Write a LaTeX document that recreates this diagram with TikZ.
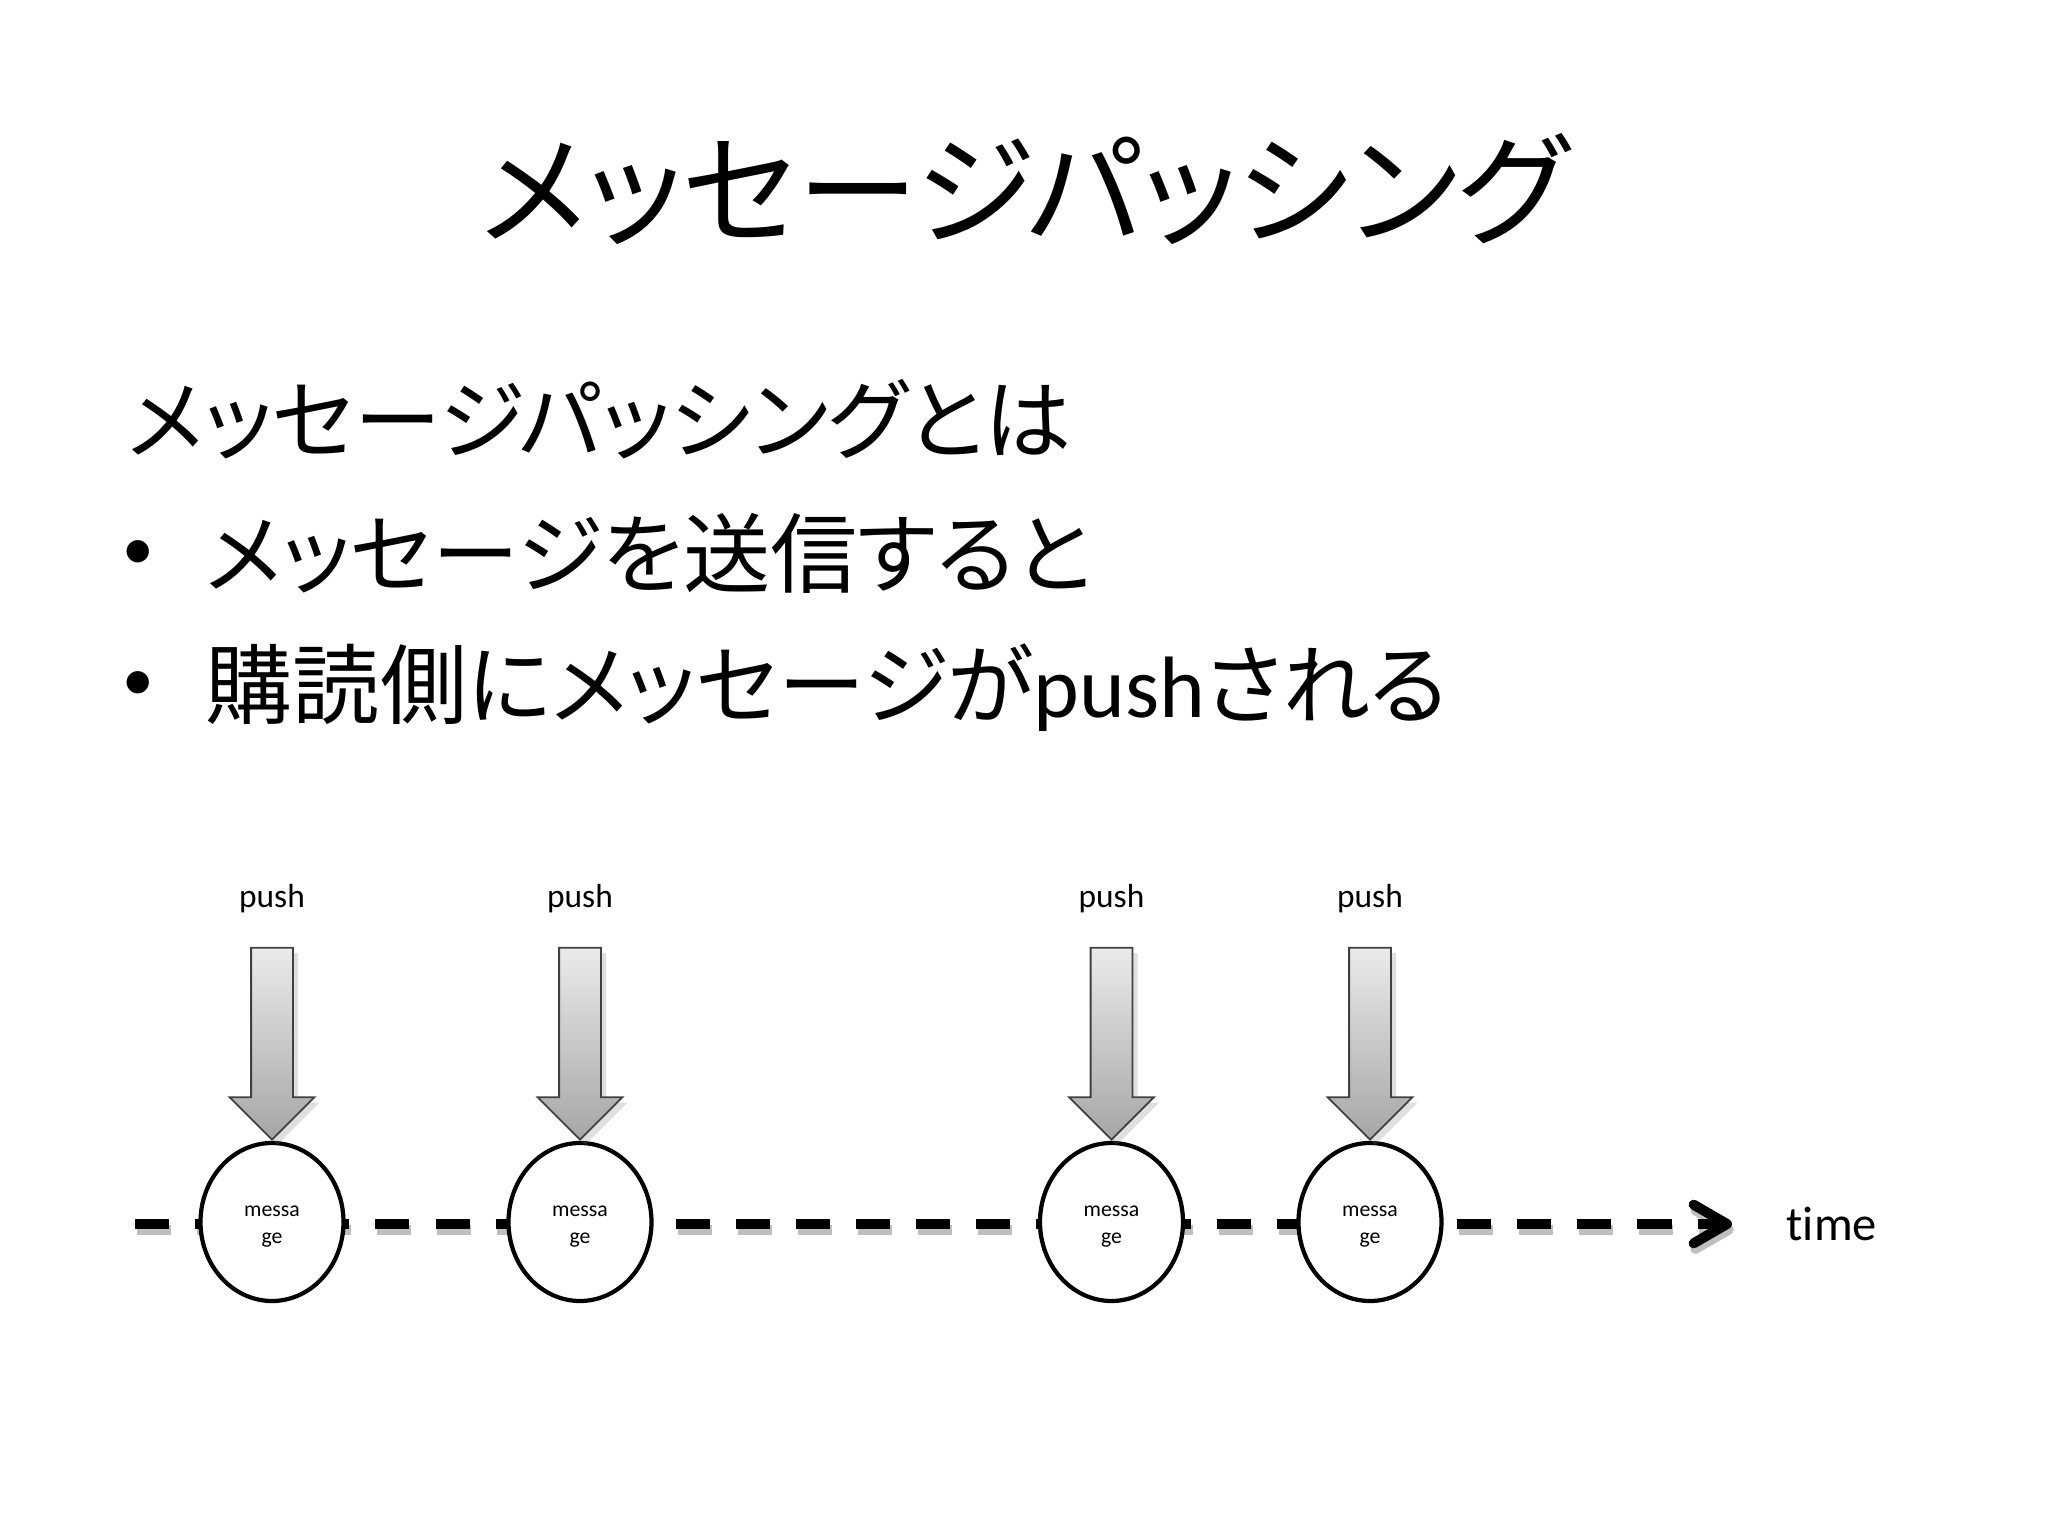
\documentclass[tikz,border=0pt]{standalone}
\usepackage{fontspec}
\setmainfont[Ligatures=NoCommon]{Carlito}
\newfontfamily\jp[RawFeature=+palt]{Noto Sans CJK JP}
\usetikzlibrary{positioning,shapes.geometric,shapes.arrows,arrows.meta,shadows,backgrounds}

\tikzset{
	msg/.style={ellipse, draw=black, line width=1.2pt, fill=white,
		minimum width=1.43cm, minimum height=1.58cm, inner sep=0pt,
		align=center, font=\fontsize{6.2}{7.6}\selectfont},
	pusharrow/.style={single arrow, draw=black!75, line width=0.5pt, rotate=-90,
		minimum height=1.92cm, minimum width=0.83cm, single arrow head extend=0.215cm,
		inner xsep=0pt, inner ysep=0.2cm, top color=black!8, bottom color=black!35,
		drop shadow={opacity=0.25, shadow xshift=1.5pt, shadow yshift=-1.5pt}},
	pushlabel/.style={inner sep=0pt, font=\fontsize{9.5}{11}\selectfont},
	timeline/.style={line width=2.85pt, dash pattern=on 9.7pt off 7.4pt,
		-{Straight Barb[length=9.5pt,width=11pt,round]}},
	bodytext/.style={anchor=base west, inner sep=0pt, font=\jp\fontsize{24.8}{30}\selectfont},
	bullet/.style={inner sep=0pt, font=\fontsize{18}{22}\selectfont},
}

\begin{document}
\begin{tikzpicture}
	\useasboundingbox (0,0) rectangle (20.48,-15.36);
	
	% slide text
	\node[anchor=base, font=\jp\fontsize{34.6}{40}\selectfont] (title) at (10.24,-2.36) {メッセージパッシング};
	\node[bodytext] (line1) at (1.27,-4.52) {メッセージパッシングとは};
	\node[bullet] (bul2) at (1.38,-5.55) {\textbullet};
	\node[bodytext] (line2) at (2.05,-5.87) {メッセージを送信すると};
	\node[bullet] (bul3) at (1.38,-6.86) {\textbullet};
	\node[bodytext] (line3) at (2.05,-7.18) {購読側にメッセージが{\rmfamily push}される};
	
	% messages on the time line
	\coordinate (tstart) at (1.35,-12.24);
	\coordinate (tend) at (17.32,-12.24);
	\node[msg] (msg1) at (2.72,-12.22) {\rule{0pt}{5.8pt}messa\\ge};
	\node[msg] (msg2) at (5.80,-12.22) {\rule{0pt}{5.8pt}messa\\ge};
	\node[msg] (msg3) at (11.115,-12.22) {\rule{0pt}{5.8pt}messa\\ge};
	\node[msg] (msg4) at (13.70,-12.22) {\rule{0pt}{5.8pt}messa\\ge};
	\node[anchor=base west, inner sep=0pt, font=\fontsize{13.8}{16}\selectfont] (time) at (17.86,-12.40) {time};
	
	\begin{scope}[on background layer]
		\draw[timeline, draw=black!25] ([shift={(0.5pt,-1.6pt)}]tstart) -- ([shift={(0.5pt,-1.6pt)}]tend);
		\draw[timeline] (tstart) -- (tend);
	\end{scope}
	
	% push arrows
	\node[pusharrow, anchor=tip] (arr1) at (msg1.north) {};
	\node[pusharrow, anchor=tip] (arr2) at (msg2.north) {};
	\node[pusharrow, anchor=tip] (arr3) at (msg3.north) {};
	\node[pusharrow, anchor=tip] (arr4) at (msg4.north) {};
	\node[pushlabel, above=0.33cm of arr1.tail] (push1) {push};
	\node[pushlabel, above=0.33cm of arr2.tail] (push2) {push};
	\node[pushlabel, above=0.33cm of arr3.tail] (push3) {push};
	\node[pushlabel, above=0.33cm of arr4.tail] (push4) {push};
\end{tikzpicture}
\end{document}
